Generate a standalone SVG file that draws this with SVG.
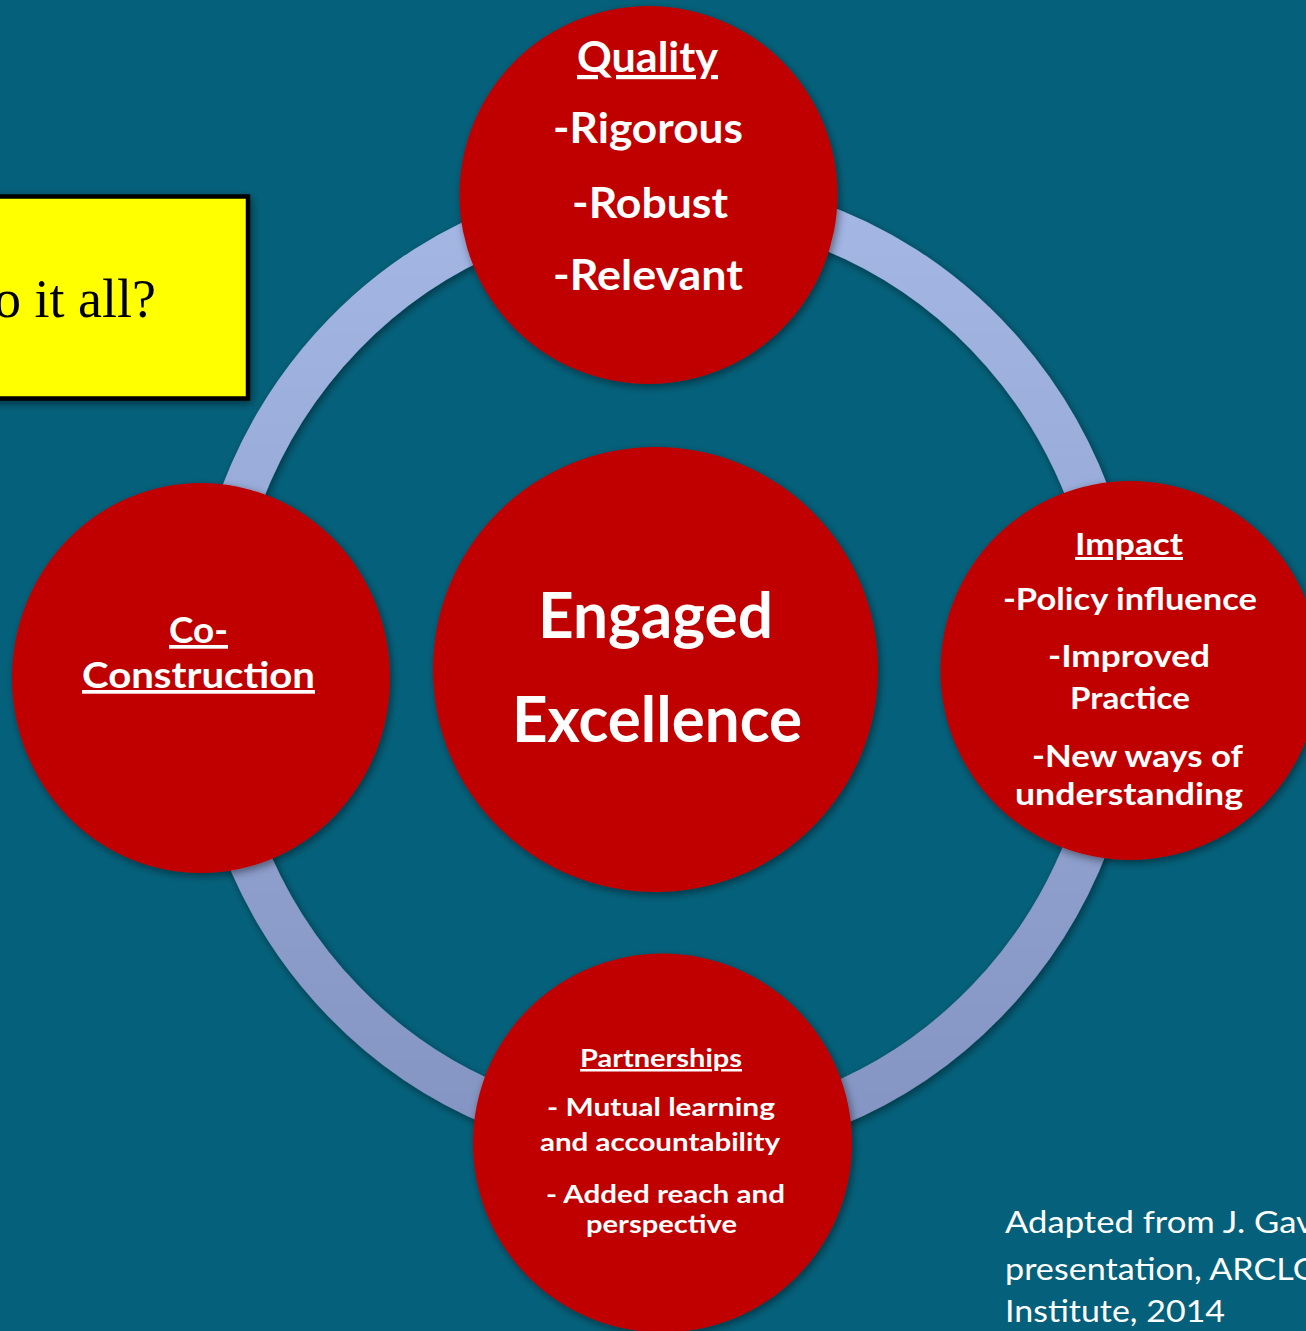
<svg xmlns="http://www.w3.org/2000/svg" width="1306" height="1331" viewBox="0 0 1306 1331">
  <style>
    .node { fill: #C00000; filter: url(#shadow); }
    .t { font-family: Lato, "Open Sans", "Liberation Sans", sans-serif; font-weight: 700; fill: #FFFFFF; }
    .u { text-decoration: underline; }
    .foot { font-family: Lato, "Open Sans", "Liberation Sans", sans-serif; font-weight: 400; fill: #FFFFFF; font-size: 30px; }
  </style>
  <defs>
    <filter id="shadow" x="-10%" y="-10%" width="125%" height="125%">
      <feDropShadow dx="2" dy="3" stdDeviation="4" flood-color="#000000" flood-opacity="0.45"/>
    </filter>
    <linearGradient id="ringGrad" gradientUnits="userSpaceOnUse" x1="0" y1="180" x2="0" y2="1160">
      <stop offset="0" stop-color="#A4B7E5"/>
      <stop offset="1" stop-color="#8494C2"/>
    </linearGradient>
  </defs>

  <rect x="0" y="0" width="1306" height="1331" fill="#05617B"/>

  <g id="question-box">
    <rect x="-10" y="196.5" width="258" height="202" fill="#FFFF00" stroke="#000000" stroke-width="4.5" filter="url(#shadow)"/>
    <text x="156" y="317" text-anchor="end" font-family="'Liberation Serif', 'Times New Roman', serif" font-size="54" fill="#000000">o it all?</text>
  </g>

  <g id="connectors">
    <ellipse cx="665" cy="668" rx="455" ry="471" fill="none" stroke="url(#ringGrad)" stroke-width="43" filter="url(#shadow)"/>
  </g>

  <g id="quality">
    <circle class="node" cx="648.5" cy="195" r="189"/>
    <text class="t u" x="577" y="72" font-size="42" textLength="141" lengthAdjust="spacingAndGlyphs">Quality</text>
    <text class="t" x="553" y="143" font-size="42" textLength="190" lengthAdjust="spacingAndGlyphs">-Rigorous</text>
    <text class="t" x="572" y="218" font-size="42" textLength="156" lengthAdjust="spacingAndGlyphs">-Robust</text>
    <text class="t" x="553" y="290" font-size="42" textLength="190" lengthAdjust="spacingAndGlyphs">-Relevant</text>
  </g>

  <g id="co-construction">
    <ellipse class="node" cx="201" cy="678" rx="189" ry="195"/>
    <text class="t u" x="169" y="643" font-size="37" textLength="59" lengthAdjust="spacingAndGlyphs">Co-</text>
    <text class="t u" x="82" y="688" font-size="37" textLength="233" lengthAdjust="spacingAndGlyphs">Construction</text>
  </g>

  <g id="engaged-excellence">
    <circle class="node" cx="655.5" cy="669.5" r="222.5"/>
    <text class="t" x="538" y="638" font-size="64" textLength="235" lengthAdjust="spacingAndGlyphs">Engaged</text>
    <text class="t" x="512" y="742" font-size="64" textLength="290" lengthAdjust="spacingAndGlyphs">Excellence</text>
  </g>

  <g id="impact">
    <circle class="node" cx="1130" cy="670.5" r="189.5"/>
    <text class="t u" x="1075" y="555" font-size="30" textLength="108" lengthAdjust="spacingAndGlyphs">Impact</text>
    <text class="t" x="1003" y="610" font-size="30" textLength="254" lengthAdjust="spacingAndGlyphs">-Policy influence</text>
    <text class="t" x="1048" y="667" font-size="30" textLength="162" lengthAdjust="spacingAndGlyphs">-Improved</text>
    <text class="t" x="1070" y="709" font-size="30" textLength="120" lengthAdjust="spacingAndGlyphs">Practice</text>
    <text class="t" x="1032" y="767" font-size="30" textLength="211" lengthAdjust="spacingAndGlyphs">-New ways of</text>
    <text class="t" x="1015" y="805" font-size="30" textLength="228" lengthAdjust="spacingAndGlyphs">understanding</text>
  </g>

  <g id="partnerships">
    <circle class="node" cx="662.5" cy="1143" r="189.5"/>
    <text class="t u" x="580" y="1067" font-size="25" textLength="162" lengthAdjust="spacingAndGlyphs">Partnerships</text>
    <text class="t" x="547" y="1116" font-size="25" textLength="228" lengthAdjust="spacingAndGlyphs">- Mutual learning</text>
    <text class="t" x="540" y="1151" font-size="25" textLength="240" lengthAdjust="spacingAndGlyphs">and accountability</text>
    <text class="t" x="546" y="1203" font-size="25" textLength="239" lengthAdjust="spacingAndGlyphs">- Added reach and</text>
    <text class="t" x="586" y="1233" font-size="25" textLength="151" lengthAdjust="spacingAndGlyphs">perspective</text>
  </g>

  <g id="source-note">
    <text class="foot" x="1005" y="1233" textLength="309" lengthAdjust="spacingAndGlyphs">Adapted from J. Gav</text>
    <text class="foot" x="1005" y="1280" textLength="315" lengthAdjust="spacingAndGlyphs">presentation, ARCLO</text>
    <text class="foot" x="1005" y="1322" textLength="220" lengthAdjust="spacingAndGlyphs">Institute, 2014</text>
  </g>
</svg>
